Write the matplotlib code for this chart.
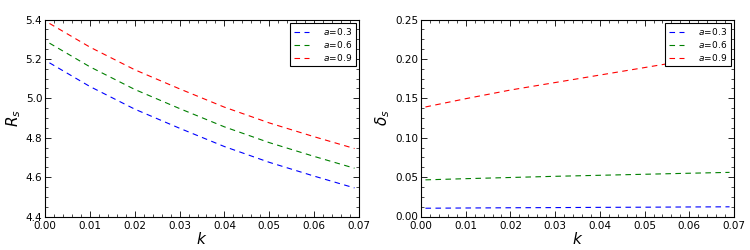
import numpy as np
import matplotlib
matplotlib.use("Agg")
import matplotlib.pyplot as plt
from matplotlib.ticker import AutoMinorLocator

k = [0.001, 0.01, 0.02, 0.03, 0.04, 0.05, 0.06, 0.069]

# R_s for each a
r_03 = [5.180, 5.060, 4.945, 4.848, 4.755, 4.675, 4.605, 4.545]
r_06 = [5.280, 5.160, 5.045, 4.948, 4.855, 4.775, 4.705, 4.645]
r_09 = [5.380, 5.260, 5.145, 5.048, 4.955, 4.875, 4.805, 4.745]

# delta_s for each a
d_03 = [0.0105, 0.0108, 0.0111, 0.0113, 0.0116, 0.0118, 0.0121, 0.0123]
d_06 = [0.0465, 0.0480, 0.0495, 0.0510, 0.0523, 0.0536, 0.0549, 0.0560]
d_09 = [0.1390, 0.1495, 0.1605, 0.1700, 0.1795, 0.1890, 0.1985, 0.2065]

labels = [r"$a\!=\!0.3$", r"$a\!=\!0.6$", r"$a\!=\!0.9$"]
colors = ["#0000ff", "#008000", "#ff0000"]

fig = plt.figure(figsize=(7.5, 2.5), dpi=100)
ax1 = fig.add_axes([45/750, 1-216.5/250, 314/750, 197/250])
ax2 = fig.add_axes([421/750, 1-216.5/250, 313/750, 197/250])

for ax, series, ylab, ylim, yticks, yfmt in [
        (ax1, [r_03, r_06, r_09], "$R_s$", (4.4, 5.4), np.arange(4.4, 5.41, 0.2), "%.1f"),
        (ax2, [d_03, d_06, d_09], r"$\delta_s$", (0.0, 0.25), np.arange(0, 0.251, 0.05), "%.2f")]:
    for y, lab, c in zip(series, labels, colors):
        ax.plot(k, y, linestyle="--", color=c, linewidth=0.8, label=lab, dashes=(5, 4))
    ax.set_xlim(0, 0.07)
    ax.set_ylim(*ylim)
    ax.set_yticks(yticks)
    ax.set_xticks(np.arange(0, 0.0701, 0.01))
    ax.xaxis.set_major_formatter(plt.FormatStrFormatter("%.2f"))
    ax.yaxis.set_major_formatter(plt.FormatStrFormatter(yfmt))
    ax.xaxis.set_minor_locator(AutoMinorLocator(5))
    ax.yaxis.set_minor_locator(AutoMinorLocator(4))
    ax.tick_params(which="both", direction="in", top=True, right=True, labelsize=7.5)
    ax.tick_params(axis="x", pad=3)
    ax.tick_params(axis="y", pad=2)
    ax.tick_params(which="major", length=4, width=0.6)
    ax.tick_params(which="minor", length=2, width=0.5)
    for s in ax.spines.values():
        s.set_linewidth(0.8)
    ax.set_xlabel("$k$", fontsize=11, labelpad=0)
    ax.set_ylabel(ylab, fontsize=11, labelpad=2)
    leg = ax.legend(loc="upper right", fontsize=6.5, frameon=True, fancybox=False,
                    handlelength=1.7, borderaxespad=0.35, labelspacing=0.25,
                    handletextpad=1.6, borderpad=0.35, framealpha=1)
    leg.get_frame().set_edgecolor("black")
    leg.get_frame().set_linewidth(0.8)

fig.savefig("out.png", dpi=100)
